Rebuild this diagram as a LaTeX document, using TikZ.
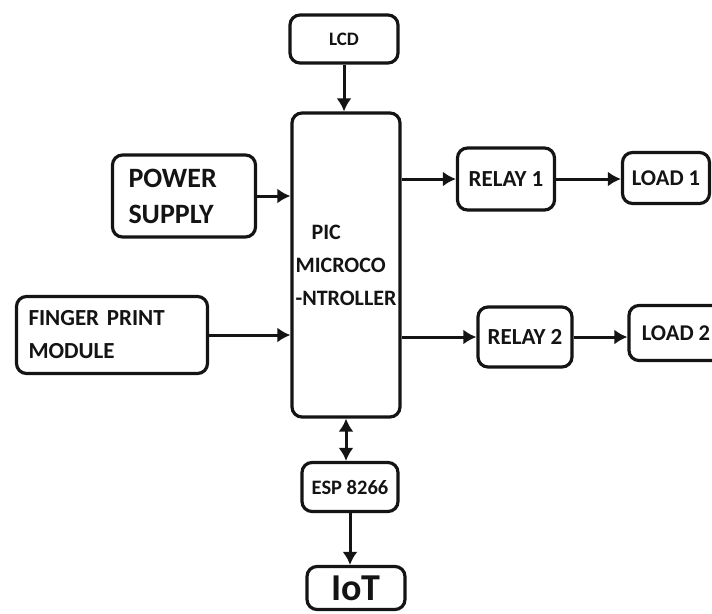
\documentclass[tikz,border=0pt]{standalone}
\usepackage{fontspec}
\setmainfont{Carlito}
\usetikzlibrary{arrows.meta}
\definecolor{inkblack}{HTML}{141414}
\newcommand{\blocktext}[1]{\fontsize{#1}{#1}\selectfont\bfseries}

\begin{document}
\begin{tikzpicture}[x=1pt,y=-1pt,
  blockbox/.style={draw=inkblack,fill=white,rounded corners=10pt,line width=3.2pt,align=center,inner sep=0pt,text=inkblack},
  link/.style={-{Latex[length=13pt,width=15pt]},line width=3pt,draw=inkblack},
  duallink/.style={{Latex[length=13pt,width=15pt]}-{Latex[length=13pt,width=15pt]},line width=3pt,draw=inkblack}]
\useasboundingbox (0,0) rectangle (712,613);
\clip (0,0) rectangle (712,613);

\node[blockbox,minimum width=108pt,minimum height=48pt,font={\blocktext{19}}] (lcd) at (344,39) {LCD};
\node[blockbox,minimum width=108pt,minimum height=304pt,align=left,font={\fontsize{22}{33}\selectfont\bfseries}] (micro) at (346,265) {\hspace*{16pt}PIC\\MICROCO\\-NTROLLER};
\node[blockbox,minimum width=143pt,minimum height=82pt,text width=111pt,align=left,font={\fontsize{28}{36}\selectfont\bfseries}] (power) at (184,196) {POWER\\SUPPLY};
\node[blockbox,minimum width=191pt,minimum height=77pt,text width=167pt,align=left,font={\fontsize{23}{33}\selectfont\bfseries}] (finger) at (112,335) {FINGER PRINT\\MODULE};

\node[blockbox,minimum width=97pt,minimum height=62pt,font={\blocktext{23}}] (relay1) at (506,179) {RELAY 1};
\node[blockbox,minimum width=87pt,minimum height=51pt,font={\blocktext{22.5}}] (load1) at (666,178) {LOAD 1};
\node[blockbox,minimum width=94pt,minimum height=60pt,font={\blocktext{23}}] (relay2) at (525,337) {RELAY 2};
\node[blockbox,minimum width=94pt,minimum height=55pt,font={\blocktext{22.5}}] (load2) at (676,333) {LOAD 2};

\node[blockbox,minimum width=96pt,minimum height=49pt,font={\blocktext{20.5}}] (esp) at (350,487) {ESP 8266};
\node[blockbox,minimum width=98pt,minimum height=43pt,font={\blocktext{38}}] (iot) at (356,588) {IoT};

\draw[link] (lcd) -- (lcd.south |- micro.north);
\draw[link] (power.east) -- (power.east -| micro.west);
\draw[link] (finger.east) -- (finger.east -| micro.west);
\draw[link] (micro.east |- relay1.west) -- (relay1.west);
\draw[link] (relay1.east) -- (relay1.east -| load1.west);
\draw[link] (micro.east |- relay2.west) -- (relay2.west);
\draw[link] (relay2.east) -- (relay2.east -| load2.west);
\draw[duallink] (micro) -- (micro.south |- esp.north);
\draw[link] (esp.south) -- (esp.south |- iot.north);
\end{tikzpicture}
\end{document}
